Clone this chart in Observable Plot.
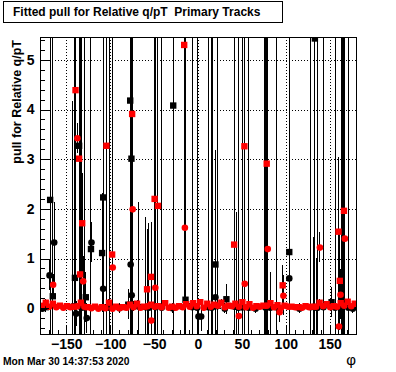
<!DOCTYPE html>
<html><head><meta charset="utf-8">
<script src="https://cdn.jsdelivr.net/npm/d3@7"></script>
<script src="https://cdn.jsdelivr.net/npm/@observablehq/plot@0.6"></script>
<style>
body{margin:0;background:#fff;}
#wrap{position:relative;width:396px;height:372px;overflow:hidden;font-family:"Liberation Sans",Arial,Helvetica,sans-serif;color:#000;}
#chart{position:absolute;left:0;top:0;}
.lbl{position:absolute;white-space:nowrap;font-weight:bold;}
#title{left:3px;top:1px;width:280px;height:22px;box-sizing:border-box;border:1px solid #000;font-size:12px;line-height:20px;padding-left:9px;background:#fff;}
#ylab{left:10px;top:240px;width:200px;text-align:right;font-size:12.5px;line-height:14px;transform:rotate(-90deg);transform-origin:0 0;}
#xlab{left:300px;top:352px;width:56px;text-align:right;font-size:15px;line-height:16px;font-weight:normal;}
#date{left:3px;top:356px;font-size:10.3px;line-height:12px;}
</style></head>
<body>
<div id="wrap">
  <div id="chart"></div>
  <div class="lbl" id="title">Fitted pull for Relative q/pT&nbsp; Primary Tracks</div>
  <div class="lbl" id="ylab">pull for Relative q/pT</div>
  <div class="lbl" id="xlab">φ</div>
  <div class="lbl" id="date">Mon Mar 30 14:37:53 2020</div>
</div>
<script>
// ---- tick labels ----
const xMajorTicks = [-150, -100, -50, 0, 50, 100, 150];
const yMajorTicks = [0, 1, 2, 3, 4, 5];
const xMinorTicks = [-180,-170,-160,-140,-130,-120,-110,-90,-80,-70,-60,-40,-30,-20,-10,10,20,30,40,60,70,80,90,110,120,130,140,160,170,180];
const yMinorTicks = [-0.4,-0.2,0.2,0.4,0.6,0.8,1.2,1.4,1.6,1.8,2.2,2.4,2.6,2.8,3.2,3.4,3.6,3.8,4.2,4.4,4.6,4.8,5.2,5.4];

// ---- black circles ----
const blackCircPhi  = [-178,-169.7,-164.4,-143,-139.4,-133,-130.3,-127.3,-121.9,-108.6,-101.5,-90,-77.3,-76.1,-73.9,-68,-60.2,-56.5,-48.9,-42,-30,-7.2,-1.5,0,3,11,15,16.2,19.3,21.3,30,41.3,42.8,45,45.6,49.7,50.3,57.2,65,75.6,76.6,81.8,88.3,103.4,115,128.1,131,134.5,135.6,142.4,155.7,163.3,164.2,170.8,176];
const blackCircPull = [0.00,0.67,1.33,0.05,-0.10,0.02,0.03,-0.19,1.33,0.40,0.02,0.01,0.89,0.27,0.05,0.04,0.03,0.02,0.03,0.02,0.01,0.03,0.02,-0.16,-0.16,0.03,0.02,0.04,0.23,0.05,0.00,0.04,0.04,0.03,0.02,0.03,0.03,0.02,0.00,0.04,0.02,0.02,0.03,0.61,0.00,0.03,0.04,0.02,0.02,0.03,0.02,0.04,0.03,0.02,0.00];
const blackCircErr  = [0.05,0.3,0.8,4.13,0.25,9,9,0.3,0.4,0.5,9,0.1,9,9,0.1,2.1,1.8,1.7,9,9,0.1,9,9,0.2,0.3,9,9,9,0.5,9,0.1,9,1.9,9,9,9,1.4,9,0.1,9,9,0.7,9,0.8,0.1,9,1.4,1.0,9,9,9,9,9,9,0.1];

// ---- black squares ----
const blackSqPhi  = [-174,-169,-166,-140.8,-136,-134,-128.4,-122.5,-109.8,-108.6,-104.5,-80,-77.8,-76.4,-28.8,-14.8,19.3,31.8,103.4,132.6,151.6];
const blackSqPull = [0.03,2.19,0.25,0.62,3.28,0.05,0.23,1.20,1.12,2.24,0.03,0.08,4.19,3.02,4.09,0.18,0.89,0.19,1.14,5.44,0.13];
const blackSqErr  = [0.1,9,9,9,9,9,0.5,9,1.2,9,9,0.3,9,9,9,9,2.3,0.3,9,9,0.3];

// ---- red circles ----
const redCircPhi  = [-178,-170,-162,-154,-146,-138,-130,-122,-114,-106,-98,-90,-82,-74,-66,-58,-50,-42,-34,-26,-18,-10,-2,6,14,22,30,38,46,54,62,70,78,86,94,102,110,118,126,134,142,150,158,166,174,
  -165.6,-137.9,-131.4,-97.7,-75.0,-53.8,-49.2,-15.5,46,52.7,78.9,92.4,96.7,138.3,160,161.8,166.7];
const redCircPull = [0.06,0.04,0.03,0.02,0.03,0.05,0.04,0.01,0.00,0.01,0.00,0.01,0.02,0.03,0.02,0.05,0.04,0.03,0.02,0.02,0.03,0.04,0.05,0.02,0.04,0.06,0.03,0.05,0.04,0.03,0.02,0.04,0.06,0.03,0.02,0.04,0.03,0.02,0.03,0.04,0.05,0.03,0.04,0.06,0.05,
  0.48,3.43,0.55,0.83,2.00,-0.24,0.42,1.63,-0.15,0.50,1.20,-0.07,0.26,1.23,-0.36,0.28,1.41];
const redCircErr  = [0.05,0.04,0.06,0.03,0.05,0.04,0.05,0.03,0.04,0.05,0.03,0.04,0.05,0.06,0.04,0.05,0.03,0.04,0.05,0.03,0.04,0.06,0.05,0.04,0.03,0.05,0.04,0.05,0.06,0.04,0.03,0.05,0.04,0.03,0.05,0.04,0.06,0.03,0.04,0.05,0.04,0.03,0.05,0.06,0.04,
  0.2,0.3,0.5,0.5,0.3,0.3,0.4,9,0.3,0.5,9,0.2,0.4,0.3,0.4,0.5,9];

// ---- red squares ----
const redSqPhi  = [-174,-166,-158,-150,-142,-134,-126,-118,-110,-102,-94,-86,-78,-70,-62,-54,-46,-38,-30,-22,-14,-6,2,10,18,26,34,42,50,58,66,74,82,90,98,106,114,122,130,138,146,154,162,170,178,
  -140.1,-136.0,-134.9,-132.5,-104.9,-98.4,-75.6,-58.6,-54.1,-50,-46.2,-16.3,40.6,52.3,77.7,95.9,159.5,161,165.7];
const redSqPull = [0.12,0.10,0.06,0.05,0.04,0.12,0.03,0.04,0.03,0.12,0.04,0.03,0.08,0.10,0.04,0.08,0.05,0.11,0.04,0.05,0.09,0.11,0.13,0.10,0.08,0.12,0.06,0.10,0.13,0.09,0.05,0.06,0.11,0.07,0.06,0.04,0.03,0.05,0.04,0.12,0.09,0.05,0.11,0.14,0.10,
  4.40,3.02,0.69,1.72,3.28,1.09,3.92,0.39,0.64,2.21,2.07,5.31,1.29,3.27,2.92,0.47,1.55,0.56,1.97];
const redSqErr  = [0.06,0.05,0.04,0.05,0.03,0.06,0.04,0.05,0.03,0.06,0.04,0.05,0.04,0.06,0.03,0.05,0.04,0.06,0.05,0.03,0.04,0.05,0.06,0.04,0.05,0.06,0.03,0.05,0.06,0.04,0.03,0.05,0.06,0.04,0.05,0.03,0.04,0.05,0.03,0.06,0.05,0.04,0.06,0.05,0.04,
  9,0.3,0.5,1.0,0.5,9,9,1.2,1.1,9,9,9,0.8,9,9,0.4,1.5,1.0,9];

const table = (phi, pull, err) => phi.map((p, i) => ({phi: p, pull: pull[i], err: err[i]}));
const blackCirc = table(blackCircPhi, blackCircPull, blackCircErr);
const blackSq = table(blackSqPhi, blackSqPull, blackSqErr);
const redCirc = table(redCircPhi, redCircPull, redCircErr);
const redSq = table(redSqPhi, redSqPull, redSqErr);

const W = 396, H = 372, mL = 40, mR = 40, mT = 37, mB = 38;
const innerW = W - mL - mR, innerH = H - mT - mB;

const errBars = (data) => Plot.ruleX(data, {x: "phi", y1: d => d.pull - d.err, y2: d => d.pull + d.err, stroke: "black", strokeWidth: 1, clip: true, shapeRendering: "crispEdges"});
const circles = (data, c) => Plot.dot(data, {x: "phi", y: "pull", r: 3.3, symbol: "circle", fill: c, stroke: "none", clip: true});
const squares = (data, c) => Plot.dot(data, {x: "phi", y: "pull", r: 3.6, symbol: "square", fill: c, stroke: "none", clip: true});

const chart = Plot.plot({
  width: W, height: H,
  marginLeft: mL, marginRight: mR, marginTop: mT, marginBottom: mB,
  x: {domain: [-180, 180]},
  y: {domain: [-0.52, 5.46]},
  style: {fontFamily: "'Liberation Sans', Arial, sans-serif", fontSize: "14px", fontWeight: "bold", color: "black", background: "white", overflow: "visible"},
  marks: [
    Plot.gridX(xMajorTicks, {stroke: "black", strokeOpacity: 1, strokeDasharray: "1,2", shapeRendering: "crispEdges"}),
    Plot.gridY(yMajorTicks, {stroke: "black", strokeOpacity: 1, strokeDasharray: "1,2", shapeRendering: "crispEdges"}),
    errBars(blackCirc),
    errBars(blackSq),
    circles(blackCirc, "black"),
    squares(blackSq, "black"),
    errBars(redCirc),
    errBars(redSq),
    circles(redCirc, "#ff0000"),
    squares(redSq, "#ff0000"),
    Plot.ruleX(xMajorTicks, {x: d => d, insetTop: innerH - 9, stroke: "black", shapeRendering: "crispEdges"}),
    Plot.ruleX(xMinorTicks, {x: d => d, insetTop: innerH - 4.5, stroke: "black", shapeRendering: "crispEdges"}),
    Plot.ruleY(yMajorTicks, {y: d => d, insetRight: innerW - 9, stroke: "black", shapeRendering: "crispEdges"}),
    Plot.ruleY(yMinorTicks, {y: d => d, insetRight: innerW - 4.5, stroke: "black", shapeRendering: "crispEdges"}),
    Plot.frame({stroke: "black", shapeRendering: "crispEdges"}),
    Plot.axisX(xMajorTicks, {tickSize: 0, tickPadding: 5, label: null, fontSize: 14, fontWeight: "bold"}),
    Plot.axisY(yMajorTicks, {tickSize: 0, tickPadding: 6, label: null, fontSize: 14, fontWeight: "bold", tickFormat: d3.format("d")})
  ]
});
document.getElementById("chart").appendChild(chart);
</script>
</body></html>
